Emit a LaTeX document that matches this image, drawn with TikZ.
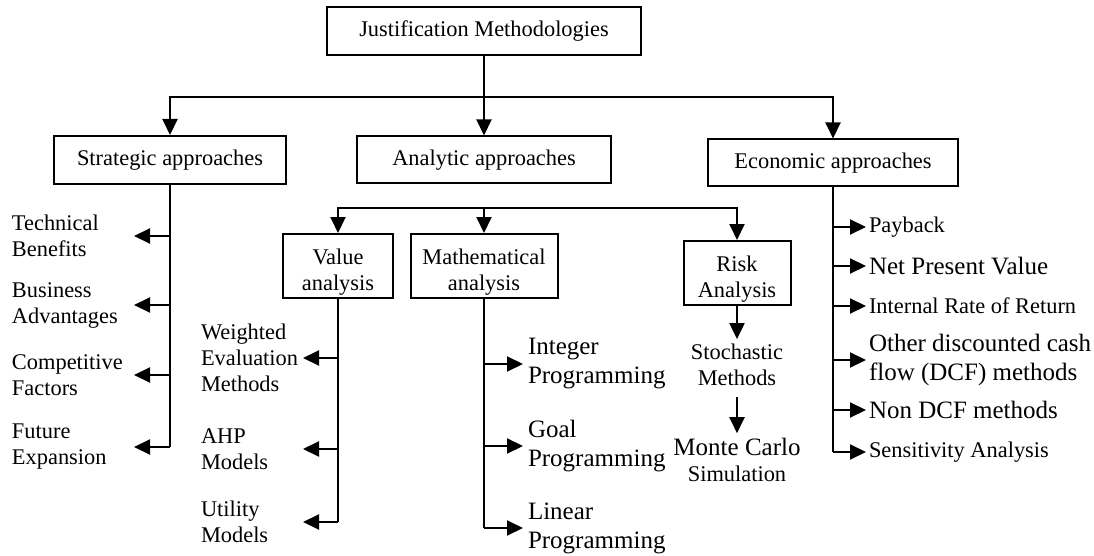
\documentclass[tikz,border=0pt]{standalone}
\usepackage{fontspec}
\setmainfont{Liberation Serif}
\usepackage{tikz}
\usetikzlibrary{arrows.meta, positioning}
\newcommand{\txtsize}{\fontsize{22.4}{26}\selectfont}
\newcommand{\bigtxt}{\fontsize{25}{29}\selectfont}

\begin{document}
\begin{tikzpicture}[x=1pt, y=-1pt, line width=2pt,
    box/.style={draw, align=center, inner sep=0pt, font=\txtsize},
    lbl/.style={inner sep=0pt, align=left, anchor=west, font=\txtsize},
    arr/.style={-{Triangle[length=16pt, width=15pt]}}]
        \useasboundingbox (0,0) rectangle (1094,556);
        % Boxes
        \node[box, minimum width=314pt, minimum height=48pt] (just) at (484,31) {Justification Methodologies};
        \node[box, minimum width=232pt, minimum height=48pt] (strat) at (170,160) {Strategic approaches};
        \node[box, minimum width=254pt, minimum height=47pt] (anal) at (484,160) {Analytic approaches};
        \node[box, minimum width=250pt, minimum height=47pt] (econ) at (833,163) {Economic approaches};
        \node[box, minimum width=110pt, minimum height=64pt, text height=54pt] (value) at (338,266) {Value\\analysis};
        \node[box, minimum width=147pt, minimum height=64pt, text height=54pt] (math) at (484,266) {Mathematical\\analysis};
        \node[box, minimum width=107pt, minimum height=64pt, text height=54pt] (risk) at (737,273) {Risk\\Analysis};
        \coordinate (bus1) at (484,97);
        \coordinate (bus2) at (484,208);
        \draw[arr] (just.south) -- (anal.north);
        \draw[arr] (bus1) -| (strat.north);
        \draw[arr] (bus1) -| (econ.north);
        \draw[arr] (bus2) -| (value.north);
        \draw[arr] (bus2) -- (math.north);
        \draw[arr] (bus2) -| (risk.north);
        % Strategic
        \node[lbl, text width=121pt] (tech) at (11,236) {Technical\\Benefits};
        \node[lbl, text width=121pt] (busi) at (11,305) {Business\\Advantages};
        \node[lbl, text width=121pt] (comp) at (11,375) {Competitive\\Factors};
        \node[lbl, text width=121pt] (fut) at (11,447) {Future\\Expansion};
        \draw (strat.south) -- (strat.south |- fut.east);
        \foreach \n in {tech, busi, comp, fut}
          \draw[arr] (strat.south |- \n.east) -- (\n.east);
        % Value analysis
        \node[lbl, text width=101pt] (wem) at (200,358) {Weighted\\Evaluation\\Methods};
        \node[lbl, text width=101pt] (ahp) at (200,449) {AHP\\Models};
        \node[lbl, text width=101pt] (util) at (200,522) {Utility\\Models};
        \draw (value.south) -- (value.south |- util.east);
        \foreach \n in {wem, ahp, util}
          \draw[arr] (value.south |- \n.east) -- (\n.east);
        % Mathematical analysis
        \node[lbl, inner xsep=4pt, font=\bigtxt] (intp) at (523,364) {Integer\\Programming};
        \node[lbl, inner xsep=4pt, font=\bigtxt] (goal) at (523,446) {Goal\\Programming};
        \node[lbl, inner xsep=4pt, font=\bigtxt] (lin) at (523,528) {Linear\\Programming};
        \draw (math.south) -- (math.south |- lin.west);
        \foreach \n in {intp, goal, lin}
          \draw[arr] (math.south |- \n.west) -- (\n.west);
        % Risk analysis
        \node[box, draw=none, inner sep=4pt] (stoch) at (737,365) {Stochastic\\Methods};
        \node[box, draw=none, inner sep=4pt] (monte) at (737,460) {{\bigtxt Monte Carlo}\\Simulation};
        \draw[arr] (risk) -- (stoch);
        \draw[arr, shorten <=6pt] (stoch) -- (monte);
        % Economic
        \node[lbl, inner xsep=2pt] (pay) at (866,227) {Payback};
        \node[lbl, inner xsep=2pt, font=\bigtxt] (npv) at (866,266) {Net Present Value};
        \node[lbl, inner xsep=2pt] (irr) at (866,306) {Internal Rate of Return};
        \node[lbl, inner xsep=2pt, font=\bigtxt] (dcf) at (866,360) {Other discounted cash\\flow (DCF) methods};
        \node[lbl, inner xsep=2pt, font=\bigtxt] (ndcf) at (866,410) {Non DCF methods};
        \node[lbl, inner xsep=2pt] (sens) at (866,452) {Sensitivity Analysis};
        \draw (econ.south) -- (econ.south |- sens.west);
        \foreach \n in {pay, npv, irr, dcf, ndcf, sens}
          \draw[arr] (econ.south |- \n.west) -- (\n.west);
\end{tikzpicture}
\end{document}
